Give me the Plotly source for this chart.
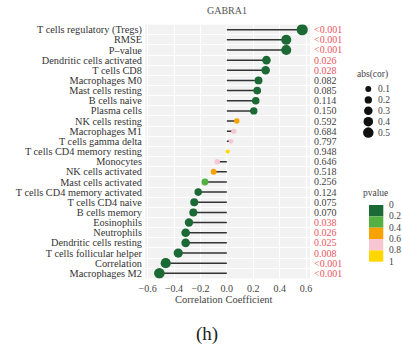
import plotly.graph_objects as go

W, H = 402, 353

cells = ["T cells regulatory (Tregs)", "RMSE", "P\u2013value", "Dendritic cells activated",
         "T cells CD8", "Macrophages M0", "Mast cells resting", "B cells naive",
         "Plasma cells", "NK cells resting", "Macrophages M1", "T cells gamma delta",
         "T cells CD4 memory resting", "Monocytes", "NK cells activated",
         "Mast cells activated", "T cells CD4 memory activated", "T cells CD4 naive",
         "B cells memory", "Eosinophils", "Neutrophils", "Dendritic cells resting",
         "T cells follicular helper", "Correlation", "Macrophages M2"]
cor = [0.571, 0.45, 0.45, 0.30, 0.294, 0.24, 0.23, 0.219, 0.204, 0.075, 0.053, 0.032,
       0.006, -0.073, -0.10, -0.166, -0.217, -0.247, -0.254, -0.287, -0.312, -0.312,
       -0.368, -0.463, -0.511]
pvals = [0.0005, 0.0005, 0.0005, 0.026, 0.028, 0.082, 0.085, 0.114, 0.150, 0.592,
         0.684, 0.797, 0.948, 0.646, 0.518, 0.256, 0.124, 0.075, 0.070, 0.038, 0.026,
         0.025, 0.008, 0.0005, 0.0005]
plabels = ["<0.001", "<0.001", "<0.001", "0.026", "0.028", "0.082", "0.085", "0.114",
           "0.150", "0.592", "0.684", "0.797", "0.948", "0.646", "0.518", "0.256",
           "0.124", "0.075", "0.070", "0.038", "0.026", "0.025", "0.008", "<0.001",
           "<0.001"]
xticks = [-0.6, -0.4, -0.2, 0.0, 0.2, 0.4, 0.6]
size_legend = [0.1, 0.2, 0.3, 0.4, 0.5]
p_breaks = [0, 0.2, 0.4, 0.6, 0.8, 1]
p_colors = ["#1b6934", "#55b043", "#f6a200", "#f7c6d2", "#ffd700"]

FONT = "Liberation Serif"
RED = "#eb5560"
GRAY = "#3f3f3f"


def pcolor(p):
    for i in range(5):
        if p <= p_breaks[i + 1]:
            return p_colors[i]
    return p_colors[-1]


def dsize(a):
    return (16 + 190 * abs(a)) ** 0.5


n = len(cells)
yidx = list(range(n))

fig = go.Figure()

sx, sy = [], []
for i, c in enumerate(cor):
    sx += [0, c, None]
    sy += [i, i, None]
fig.add_trace(go.Scatter(x=sx, y=sy, mode="lines",
                         line=dict(color="#333333", width=1.5),
                         hoverinfo="skip", showlegend=False))
fig.add_trace(go.Scatter(x=cor, y=yidx, mode="markers",
                         marker=dict(size=[dsize(c) for c in cor],
                                     color=[pcolor(p) for p in pvals],
                                     line=dict(width=0), opacity=1),
                         showlegend=False))

# panel geometry in pixels
L, R, T, B = 145, 310, 24.6, 278.4

fig.update_layout(
    width=W, height=H, autosize=False, template="none",
    margin=dict(l=0, r=0, t=0, b=0, pad=0),
    paper_bgcolor="white", plot_bgcolor="#f2f2f2",
    font=dict(family=FONT, size=10, color=GRAY),
    xaxis=dict(domain=[L / W, R / W], range=[-0.62, 0.63], tickmode="array",
               tickvals=xticks,
               ticktext=[("\u2212" if v < 0 else "") + f"{abs(v):.1f}" for v in xticks],
               showgrid=True, gridcolor="white", gridwidth=1, zeroline=False,
               showline=False, ticks="outside", ticklen=1, tickcolor="rgba(0,0,0,0)",
               tickfont=dict(size=10, color="#444444"), automargin=False, fixedrange=True),
    yaxis=dict(domain=[1 - B / H, 1 - T / H], range=[n - 0.5, -0.5], tickmode="array",
               tickvals=yidx, ticktext=cells, showgrid=False, zeroline=False,
               showline=False, ticks="outside", ticklen=0, tickcolor="rgba(0,0,0,0)",
               tickfont=dict(size=10.3, color="#333333"), automargin=False,
               fixedrange=True,
               minor=dict(tickmode="array", tickvals=[i + 0.5 for i in range(-1, n)],
                          showgrid=True, gridcolor="white", gridwidth=1, ticklen=0)),
)

ann = []
for i, (lab, p) in enumerate(zip(plabels, pvals)):
    ann.append(dict(x=1, xref="x domain", y=i, yref="y", text=lab, showarrow=False,
                    xanchor="left", yanchor="middle", xshift=2,
                    font=dict(size=10, color=RED if p < 0.05 else GRAY, family=FONT)))

# titles
ann.append(dict(x=(L + R) / 2 / W, y=1 - 10 / H, xref="paper", yref="paper", text="GABRA1",
                showarrow=False, xanchor="center", yanchor="middle",
                font=dict(size=10, color="#555555", family=FONT)))
ann.append(dict(x=(L + R) / 2 / W - 4 / W, y=1 - 299.5 / H, xref="paper", yref="paper",
                text="Correlation Coefficient", showarrow=False, xanchor="center",
                yanchor="middle", font=dict(size=10.5, color="#444444", family=FONT)))
ann.append(dict(x=207 / W, y=1 - 334 / H, xref="paper", yref="paper", text="(h)",
                showarrow=False, xanchor="center", yanchor="middle",
                font=dict(size=19, color="#222222", family=FONT)))

shapes = []
# size legend
ann.append(dict(x=372 / W, y=1 - 75 / H, xref="paper", yref="paper", text="abs(cor)",
                showarrow=False, xanchor="center", yanchor="middle",
                font=dict(size=9.5, color=GRAY, family=FONT)))
for k, v in enumerate(size_legend):
    cy = 89 + 10.9 * k
    cx = 368.3
    r = dsize(v) / 2
    shapes.append(dict(type="circle", xref="paper", yref="paper",
                       x0=(cx - r) / W, x1=(cx + r) / W, y0=1 - (cy + r) / H,
                       y1=1 - (cy - r) / H, fillcolor="#111111", line=dict(width=0)))
    ann.append(dict(x=375.5 / W, y=1 - cy / H, xref="paper", yref="paper", text=str(v),
                    showarrow=False, xanchor="left", yanchor="middle",
                    font=dict(size=9.5, color=GRAY, family=FONT)))

# p-value legend
ann.append(dict(x=375 / W, y=1 - 192.7 / H, xref="paper", yref="paper", text="pvalue",
                showarrow=False, xanchor="center", yanchor="middle",
                font=dict(size=9.5, color=GRAY, family=FONT)))
top, bot = 205.0, 261.7
for k in range(5):
    y0 = top + (bot - top) * p_breaks[k]
    y1 = top + (bot - top) * p_breaks[k + 1]
    shapes.append(dict(type="rect", xref="paper", yref="paper", x0=369 / W, x1=383.3 / W,
                       y0=1 - y1 / H, y1=1 - y0 / H, fillcolor=p_colors[k],
                       line=dict(width=0)))
for b in p_breaks:
    yy = top + (bot - top) * b
    ann.append(dict(x=386.5 / W, y=1 - yy / H, xref="paper", yref="paper",
                    text=f"{b:g}", showarrow=False, xanchor="left", yanchor="middle",
                    font=dict(size=9.5, color=GRAY, family=FONT)))

fig.update_layout(annotations=ann, shapes=shapes)
fig.write_html("out.html")
